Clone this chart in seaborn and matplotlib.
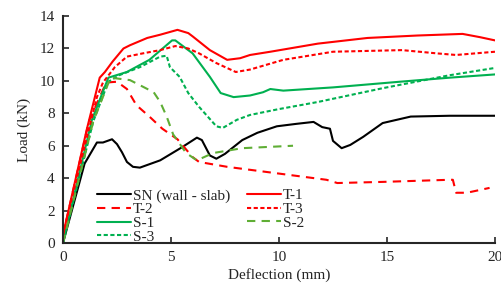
import matplotlib
matplotlib.use("Agg")
import matplotlib.pyplot as plt
import seaborn as sns

# series (deflection in mm, load in kN)
sn_x = [0, 1.0, 1.57, 1.85, 2.27, 2.5, 2.73, 2.96, 3.24, 3.56, 4.5, 5.5, 6.2, 6.43,
        6.8, 7.1, 7.5, 8.3, 9.0, 9.9, 10.8, 11.6, 12.0, 12.36, 12.5, 12.9, 13.3,
        13.9, 14.8, 16.1, 17.9, 20]
sn_y = [0, 4.9, 6.2, 6.2, 6.4, 6.1, 5.6, 5.0, 4.7, 4.65, 5.1, 5.9, 6.5, 6.35,
        5.4, 5.2, 5.5, 6.35, 6.8, 7.2, 7.35, 7.47, 7.15, 7.05, 6.3, 5.85, 6.05,
        6.55, 7.4, 7.8, 7.85, 7.85]

t1_x = [0, 1.1, 1.7, 1.94, 2.3, 2.8, 3.1, 3.9, 4.5, 5.3, 5.8, 6.0, 6.8, 7.6, 8.2,
        8.66, 9.6, 11.8, 14.1, 16.4, 18.5, 19.3, 20]
t1_y = [0.5, 7.0, 10.2, 10.55, 11.2, 12.0, 12.2, 12.65, 12.85, 13.15, 12.95, 12.75,
        11.9, 11.3, 11.4, 11.6, 11.8, 12.3, 12.65, 12.8, 12.9, 12.7, 12.5]

t2_x = [0, 1.2, 2.0, 2.5, 2.96, 3.4, 4.0, 4.6, 5.3, 6.0, 6.3, 7.6, 9.9, 12.2, 12.7,
        14.8, 17.9, 18.05, 18.2, 18.7, 19.75]
t2_y = [0.5, 7.5, 9.9, 9.95, 9.5, 8.5, 7.8, 7.05, 6.4, 5.3, 5.0, 4.7, 4.3, 3.9, 3.7,
        3.77, 3.9, 3.9, 3.1, 3.1, 3.4]

t3_x = [0, 1.1, 1.57, 1.85, 2.4, 2.96, 3.7, 4.5, 5.2, 5.8, 6.3, 7.1, 8.0, 8.66,
        10.2, 12.5, 15.7, 17.3, 18.2, 20]
t3_y = [0.5, 6.5, 9.0, 9.9, 10.85, 11.5, 11.7, 11.9, 12.15, 12.0, 11.7, 11.1, 10.55,
        10.7, 11.3, 11.8, 11.9, 11.7, 11.6, 11.8]

s1_x = [0, 1.34, 2.1, 2.96, 4.0, 5.05, 5.2, 6.0, 6.8, 7.3, 7.9, 8.66, 9.26, 9.6,
        10.2, 12.5, 15.6, 17.9, 20]
s1_y = [0, 7.6, 10.2, 10.55, 11.3, 12.5, 12.5, 11.7, 10.25, 9.25, 9.0, 9.1, 9.3,
        9.5, 9.4, 9.6, 9.95, 10.2, 10.4]

s2_x = [0, 1.4, 2.2, 3.1, 4.2, 4.5, 4.8, 5.1, 5.7, 6.2, 6.95, 8.3, 10.65]
s2_y = [0, 7.5, 10.2, 10.05, 9.3, 8.7, 7.8, 6.7, 5.55, 5.1, 5.55, 5.85, 6.0]

s3_x = [0, 1.4, 2.1, 2.6, 3.56, 4.5, 4.8, 4.95, 5.4, 5.8, 6.3, 7.1, 7.4, 8.05,
        8.66, 9.95, 11.8, 14.8, 17.9, 20]
s3_y = [0, 7.5, 9.95, 10.35, 10.85, 11.5, 11.55, 10.85, 10.25, 9.25, 8.4, 7.2, 7.1,
        7.6, 7.9, 8.25, 8.7, 9.55, 10.35, 10.8]

RED = "#ff0000"
GREEN = "#00b050"
OLIVE = "#5fae35"
LONG = (0, (4, 3))
SHORT = (0, (2, 1.2))

sns.set_style("ticks")
plt.rcParams["font.family"] = ["Liberation Serif", "DejaVu Serif"]
plt.rcParams["font.size"] = 11

fig = plt.figure(figsize=(5.02, 2.87), dpi=100)
ax = fig.add_axes([0.1255, 0.1533, 0.8605, 0.7907])

series = [
    ("SN (wall - slab)", sn_x, sn_y, "black", "-"),
    ("T-2", t2_x, t2_y, RED, LONG),
    ("S-1", s1_x, s1_y, GREEN, "-"),
    ("S-3", s3_x, s3_y, GREEN, SHORT),
    ("T-1", t1_x, t1_y, RED, "-"),
    ("T-3", t3_x, t3_y, RED, SHORT),
    ("S-2", s2_x, s2_y, OLIVE, LONG),
]
for label, xs, ys, col, ls in series:
    sns.lineplot(x=xs, y=ys, ax=ax, color=col, linestyle=ls, linewidth=1.5,
                 sort=False, estimator=None, label=label)

ax.set_xlim(0, 20)
ax.set_ylim(0, 14)
ax.set_xticks([0, 5, 10, 15, 20])
ax.set_yticks(range(0, 15, 2))
ax.tick_params(direction="in", length=4, width=1.2, labelsize=11, pad=6)
sns.despine(ax=ax)
for s in ["left", "bottom"]:
    ax.spines[s].set_linewidth(1.5)
ax.set_xlabel("Deflection (mm)", fontsize=11, labelpad=3)
ax.set_ylabel("Load (kN)", fontsize=11, labelpad=6)

ax.legend(ncol=2, frameon=False, loc="lower left", bbox_to_anchor=(0.065, -0.03),
          handlelength=2.2, handletextpad=0.15, labelspacing=0.0,
          columnspacing=1.1, borderaxespad=0, fontsize=11)

fig.savefig("out.png", dpi=100)
